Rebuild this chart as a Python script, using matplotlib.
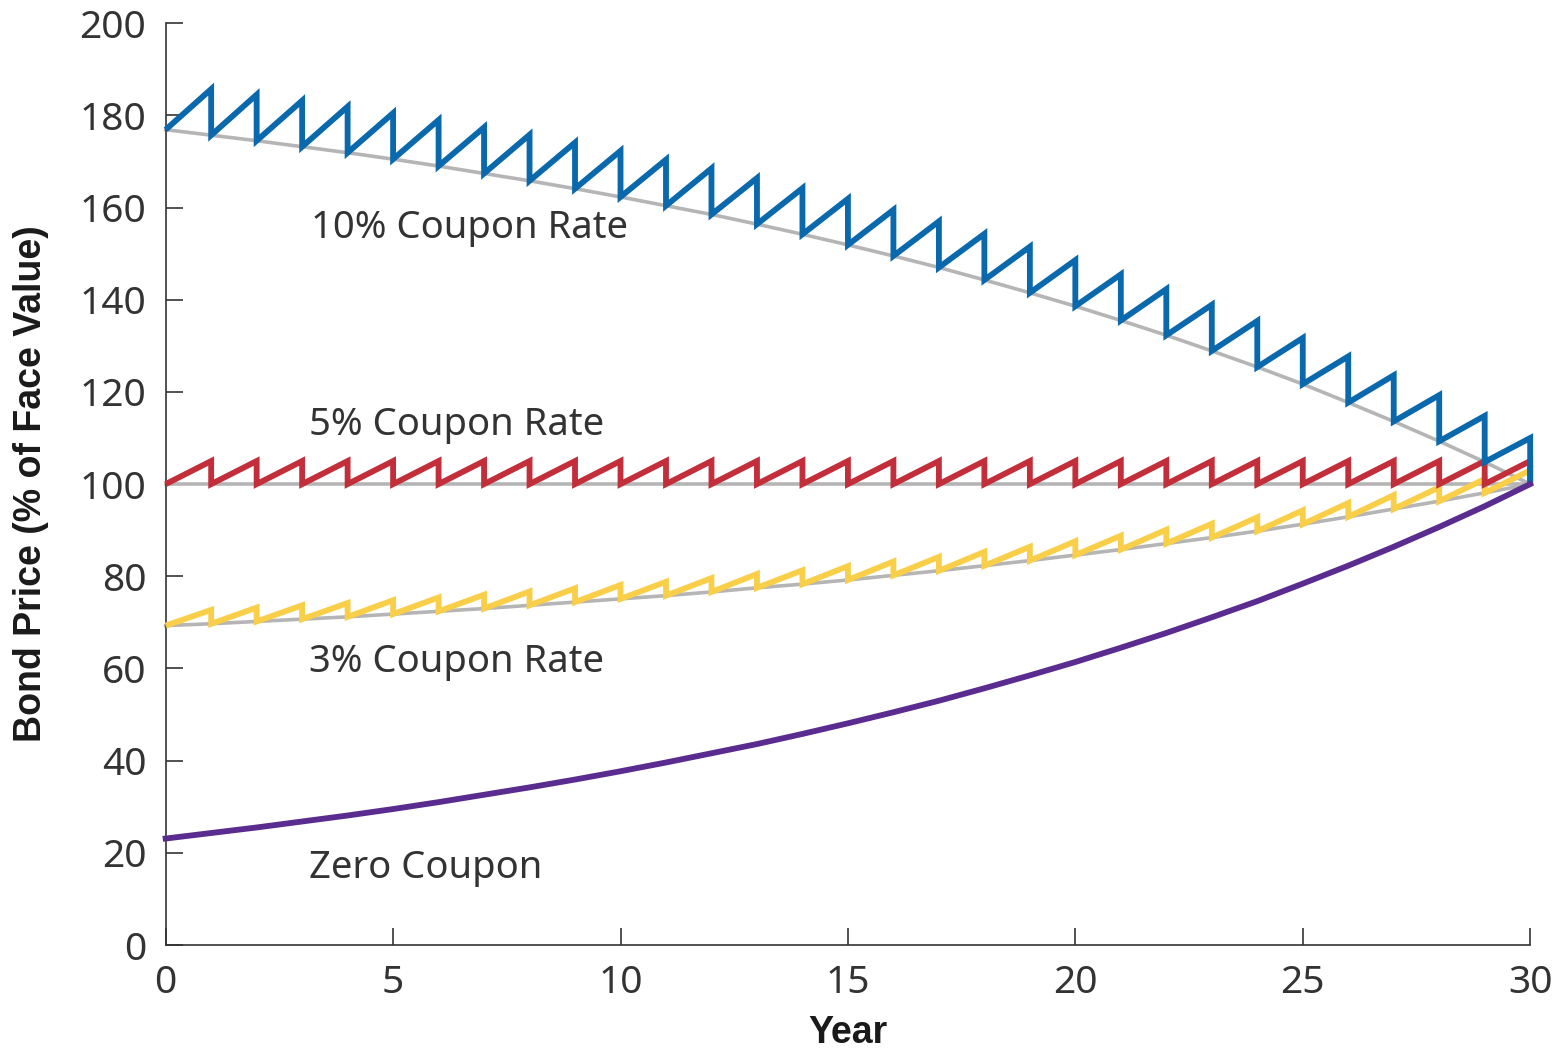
import matplotlib.pyplot as plt
import numpy as np

years = np.arange(0, 31)

# price right after the coupon is paid (grey curves)
ex10 = [176.9, 175.7, 174.5, 173.2, 171.9, 170.5, 169.0, 167.4, 165.8, 164.1,
        162.3, 160.4, 158.5, 156.4, 154.2, 151.9, 149.5, 147.0, 144.3, 141.5,
        138.6, 135.5, 132.3, 128.9, 125.4, 121.7, 117.7, 113.6, 109.3, 104.8, 100.0]
ex5 = [100.0] * 31
ex3 = [69.3, 69.7, 70.2, 70.7, 71.2, 71.8, 72.4, 73.0, 73.7, 74.4,
       75.1, 75.8, 76.6, 77.5, 78.3, 79.2, 80.2, 81.2, 82.3, 83.4,
       84.6, 85.8, 87.1, 88.4, 89.8, 91.3, 92.9, 94.6, 96.3, 98.1, 100.0]
zero = [23.1, 24.3, 25.5, 26.8, 28.1, 29.5, 31.0, 32.6, 34.2, 35.9,
        37.7, 39.6, 41.6, 43.6, 45.8, 48.1, 50.5, 53.0, 55.7, 58.5,
        61.4, 64.5, 67.7, 71.1, 74.6, 78.4, 82.3, 86.4, 90.7, 95.2, 100.0]

# price just before each coupon (tops of the saw teeth), years 1..30
peak10 = [185.7, 184.5, 183.2, 181.9, 180.5, 179.0, 177.4, 175.8, 174.1, 172.3,
          170.4, 168.5, 166.4, 164.2, 161.9, 159.5, 157.0, 154.3, 151.5, 148.6,
          145.5, 142.3, 138.9, 135.4, 131.7, 127.7, 123.6, 119.3, 114.8, 110.0]
peak5 = [105.0] * 30
peak3 = [72.7, 73.2, 73.7, 74.2, 74.8, 75.4, 76.0, 76.7, 77.4, 78.1,
         78.8, 79.6, 80.5, 81.3, 82.2, 83.2, 84.2, 85.3, 86.4, 87.6,
         88.8, 90.1, 91.4, 92.8, 94.3, 95.9, 97.6, 99.3, 101.1, 103.0]

c_blue = "#0a68ad"
c_red = "#c22f3b"
c_yellow = "#f9cf4a"
c_purple = "#5b2c90"
c_grey = "#b5b5b5"


def saw(ex, peaks):
    xs, ys = [years[0]], [ex[0]]
    for t in range(1, 31):
        xs += [years[t], years[t]]
        ys += [peaks[t - 1], ex[t]]
    return xs, ys


plt.rcParams['font.family'] = ['Noto Sans', 'DejaVu Sans']
fig = plt.figure(figsize=(15.63, 10.54), dpi=100)
ax = fig.add_axes([0.106, 0.1034, 0.873, 0.8746])

for ex in (ex10, ex5, ex3):
    ax.plot(years, ex, color=c_grey, linewidth=2.6, zorder=2, clip_on=False)

for ex, pk, col in ((ex3, peak3, c_yellow), (ex5, peak5, c_red), (ex10, peak10, c_blue)):
    xs, ys = saw(ex, pk)
    ax.plot(xs, ys, color=col, linewidth=4.2, solid_joinstyle='miter',
            solid_capstyle='butt', zorder=3, clip_on=False)

ax.plot(years, zero, color=c_purple, linewidth=4.2, zorder=3, clip_on=False)

txt = dict(fontsize=27.5, color="#333333", va="center", ha="left")
ax.text(3.2, 155.5, "10% Coupon Rate", **txt)
ax.text(3.15, 112.8, "5% Coupon Rate", **txt)
ax.text(3.15, 61.4, "3% Coupon Rate", **txt)
ax.text(3.15, 16.7, "Zero Coupon", **txt)

ax.set_xlim(0, 30)
ax.set_ylim(0, 200)
ax.set_xticks(np.arange(0, 31, 5))
ax.set_yticks(np.arange(0, 201, 20))
ax.spines['top'].set_visible(False)
ax.spines['right'].set_visible(False)
for s in ('left', 'bottom'):
    ax.spines[s].set_color("#333333")
    ax.spines[s].set_linewidth(1.2)
ax.tick_params(direction='in', length=12, width=1.2, color="#333333",
               labelsize=28, labelcolor="#333333", pad=14)

lab = dict(fontsize=27, fontweight='bold', color="#1a1a1a",
           family=['Liberation Sans', 'DejaVu Sans'])
ax.set_xlabel("Year", labelpad=9, **lab)
ax.set_ylabel("Bond Price (% of Face Value)", labelpad=22, **lab)

fig.savefig("out.png", dpi=100)
